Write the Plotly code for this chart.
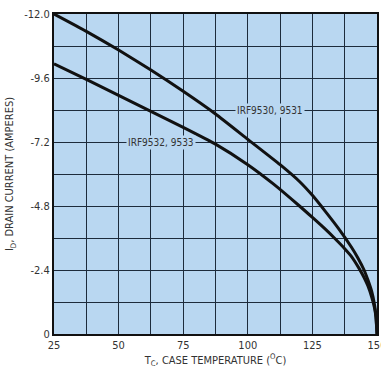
import plotly.graph_objects as go

temp_upper = [25, 37.5, 50, 62.5, 75, 87.5, 100, 112.5, 120, 125, 130, 135, 140, 142.5, 145, 146.5, 148, 149, 149.6, 150]
id_upper = [-12.0, -11.35, -10.65, -9.9, -9.1, -8.25, -7.3, -6.35, -5.72, -5.2, -4.6, -3.97, -3.27, -2.87, -2.4, -2.02, -1.58, -1.12, -0.68, 0.0]

temp_lower = [25, 37.5, 50, 62.5, 75, 87.5, 100, 110, 120, 125, 130, 133.5, 137.5, 140, 143, 145, 146.5, 148, 149, 149.6, 150]
id_lower = [-10.13, -9.55, -8.95, -8.35, -7.75, -7.12, -6.35, -5.62, -4.8, -4.37, -3.93, -3.6, -3.2, -2.92, -2.47, -2.12, -1.8, -1.37, -1.0, -0.62, 0.0]

x_ticks = [25, 50, 75, 100, 125, 150]
y_ticks = [-12.0, -9.6, -7.2, -4.8, -2.4, 0]
y_tick_labels = ["-12.0", "-9.6", "-7.2", "-4.8", "-2.4", "0"]

label_upper = "IRF9530, 9531"
label_lower = "IRF9532, 9533"

BG = "#b9d7f1"
GRID = "#1d2b3c"
FONT = "Liberation Sans Narrow, DejaVu Sans Condensed, Arial Narrow, sans-serif"

fig = go.Figure()
fig.add_trace(go.Scatter(x=temp_upper, y=id_upper, mode="lines",
                         line=dict(color="#111", width=3, shape="spline", smoothing=0.5), showlegend=False))
fig.add_trace(go.Scatter(x=temp_lower, y=id_lower, mode="lines",
                         line=dict(color="#111", width=3, shape="spline", smoothing=0.5), showlegend=False))

fig.add_annotation(x=108.5, y=-8.4, text=label_upper, showarrow=False, bgcolor=BG,
                   font=dict(family=FONT, size=10, color="#333"), borderpad=1)
fig.add_annotation(x=66.5, y=-7.2, text=label_lower, showarrow=False, bgcolor=BG,
                   font=dict(family=FONT, size=10, color="#333"), borderpad=1)

fig.update_layout(
    width=381, height=370,
    margin=dict(l=54, r=4, t=14, b=36),
    paper_bgcolor="white", plot_bgcolor=BG,
    font=dict(family=FONT, size=11, color="#333"),
    xaxis=dict(range=[25, 150], tickvals=x_ticks, ticks="", showgrid=True,
               gridcolor=GRID, gridwidth=1, automargin=False,
               minor=dict(dtick=12.5, tick0=25, showgrid=True, gridcolor=GRID, gridwidth=1),
               showline=True, linecolor="#111", linewidth=2, mirror=True, zeroline=False,
               title=dict(text="T<sub>C</sub>, CASE TEMPERATURE (<sup>O</sup>C)", standoff=2,
                          font=dict(size=11)),
               tickfont=dict(size=11), ticklabelstandoff=0, ticklabeloverflow="allow"),
    yaxis=dict(range=[0, -12], tickvals=y_ticks, ticktext=y_tick_labels, ticks="",
               showgrid=True, gridcolor=GRID, gridwidth=1, automargin=False,
               minor=dict(dtick=1.2, tick0=0, showgrid=True, gridcolor=GRID, gridwidth=1),
               showline=True, linecolor="#111", linewidth=2, mirror=True, zeroline=False,
               title=dict(text="I<sub>D</sub>, DRAIN CURRENT (AMPERES)", standoff=8,
                          font=dict(size=11)),
               tickfont=dict(size=11), ticklabeloverflow="allow"),
)

fig.write_html("out.html", config={"displayModeBar": False},
               post_script="document.body.style.margin='0';document.body.style.overflow='hidden';")
